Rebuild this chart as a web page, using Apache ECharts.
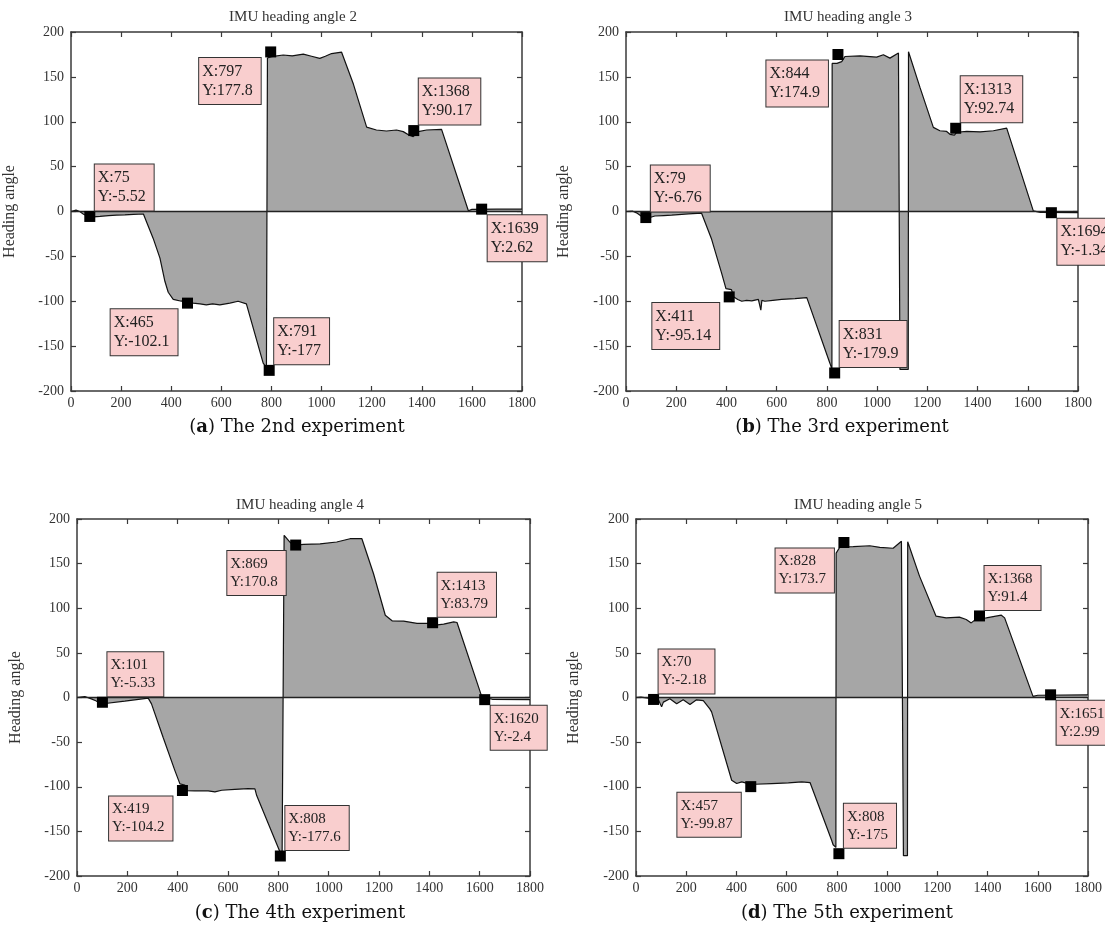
<!DOCTYPE html>
<html>
<head>
<meta charset="utf-8">
<script src="https://cdn.jsdelivr.net/npm/echarts@6/dist/echarts.min.js"></script>
<style>
  html, body { margin: 0; padding: 0; background: #fff; }
  #chart { width: 1105px; height: 943px; }
</style>
</head>
<body>
<div id="chart"></div>
<script>
// ---------- data ----------
const xTicksMin = 0, xTicksMax = 1800, xTickStep = 200;
const yTicksMin = -200, yTicksMax = 200, yTickStep = 50;

const panelTitles = ['IMU heading angle 2', 'IMU heading angle 3', 'IMU heading angle 4', 'IMU heading angle 5'];
const captionLetters = ['a', 'b', 'c', 'd'];
const captionTexts = [' The 2nd experiment', ' The 3rd experiment', ' The 4th experiment', ' The 5th experiment'];

// Experiment 2
const exp2X = [0,20,35,50,70,90,116,150,182,215,249,289,302,328,355,375,388,408,441,455,470,487,515,540,565,594,634,667,700,767,780,783,784,800,847,883,927,960,993,1015,1040,1080,1127,1180,1219,1259,1299,1326,1350,1366,1386,1419,1479,1586,1600,1700,1800];
const exp2Y = [0,1.5,0,-3,-5.5,-6,-5.5,-4.5,-4,-3.8,-3.3,-2.8,-12,-30,-52,-78,-90,-98,-100,-97,-98,-102,-103,-104,-103,-104,-102,-100,-103,-169,-174,-176,171,172.5,174.4,173.5,175.4,173,170.6,173,176,177.5,142,94,90.8,89.7,90.8,89,85,83.5,89,90.8,91.5,0.9,2.4,2.6,2.6];

// Experiment 3
const exp3X = [0,25,42,60,69,85,115,150,182,249,301,341,381,398,405,420,428,445,461,480,501,527,533,537,541,553,585,620,673,720,812,818,820,821,840,859,872,932,998,1025,1051,1085,1090,1091,1124,1125,1171,1224,1250,1277,1290,1297,1308,1317,1357,1410,1463,1516,1622,1650,1800];
const exp3Y = [0,0.5,-1.5,-5,-7,-7.5,-5,-4.5,-4,-2.6,-1.9,-31,-69,-86,-86.5,-87,-95,-98,-100,-99,-99.5,-98,-99,-110,-99,-100,-99,-98,-97,-96,-169,-174,-178,165,165,167,172.7,173.3,172,174.6,170.9,176.7,178,-176,-176,178,138,93.7,90,89.2,86,84.4,85,88.3,89.2,88.8,90,92.9,0.7,-1,-1.3];

// Experiment 4
const exp4X = [0,31,57,77,104,190,283,296,342,389,409,415,428,435,468,521,548,575,627,680,707,714,807,815,822,823,846,860,900,966,1032,1085,1132,1178,1225,1252,1298,1351,1404,1424,1457,1497,1510,1609,1650,1800];
const exp4Y = [0,1.1,-1.5,-4,-7,-4,-0.7,-7.1,-44.5,-81.9,-96.8,-98,-98,-104.3,-104.6,-104.6,-105.8,-103.9,-103,-102.1,-102.4,-109.9,-173.4,-177.2,-178,181.7,174.2,170.4,171.5,172.2,174.2,177.9,177.9,138.9,92.2,85.9,85.5,83,83,81,82.2,84.7,84,0.4,-2,-2.4];

// Experiment 5
const exp5X = [0,20,69,90,102,109,135,162,188,215,241,268,294,301,381,401,421,440,474,540,607,660,693,779,785,796,797,812,865,931,971,1024,1057,1064,1065,1081,1082,1129,1195,1235,1288,1315,1335,1355,1395,1455,1468,1581,1600,1800];
const exp5Y = [0,0.5,-1.5,-3,-10.5,-5.2,-1.5,-7.1,-2.6,-7.9,-2.6,-3.4,-12.7,-16.1,-92.7,-96.4,-94.5,-96,-97.2,-96.4,-95.7,-94.5,-95.3,-160,-165,-168,161.8,168.6,169,170,168.3,167.2,175,175.6,-177.2,-177.2,174.5,136,91.1,89.2,90,87.4,83.6,88.1,89.2,92.2,89.2,1.3,2.5,3];

// Data tips (X, Y) shown on each plot
const tip2X = [75, 797, 465, 791, 1368, 1639];
const tip2Y = [-5.52, 177.8, -102.1, -177, 90.17, 2.62];
const tip3X = [79, 844, 411, 831, 1313, 1694];
const tip3Y = [-6.76, 174.9, -95.14, -179.9, 92.74, -1.34];
const tip4X = [101, 869, 419, 808, 1413, 1620];
const tip4Y = [-5.33, 170.8, -104.2, -177.6, 83.79, -2.4];
const tip5X = [70, 828, 457, 808, 1368, 1651];
const tip5Y = [-2.18, 173.7, -99.87, -175, 91.4, 2.99];

// ---------- layout / style (not data) ----------
const grids = [
  { left: 71,  top: 32,  width: 451, height: 359 },
  { left: 626, top: 32,  width: 452, height: 359 },
  { left: 77,  top: 519, width: 453, height: 357 },
  { left: 636, top: 519, width: 452, height: 357 }
];
const titlePos = [[293, 10], [848, 10], [300, 498], [858, 498]];
const captionPos = [[297, 418], [842, 418], [300, 904], [847, 904]];
const tipPlacement = [
  ['tr','bl','bl','tr','tr','br'],
  ['tr','bl','bl','tr','tr','br'],
  ['tr','bl','bl','tr','tr','br'],
  ['tr','bl','bl','tr','tr','br']
];
const tipFont = [[16, 19], [16, 19], [15, 18], [15, 18]];
const serif = 'Liberation Serif';
const capFont = 'DejaVu Serif';
const axisColor = '#3a3a3a';
const txtColor = '#333';
const fillGray = '#a6a6a6';
const markSize = 11;
const tipPad = [4, 8, 4, 3];

const curves = [[exp2X, exp2Y], [exp3X, exp3Y], [exp4X, exp4Y], [exp5X, exp5Y]];
const tips = [[tip2X, tip2Y], [tip3X, tip3Y], [tip4X, tip4Y], [tip5X, tip5Y]];

const measureCtx = document.createElement('canvas').getContext('2d');
function tipText(x, y) { return ['X:' + x, 'Y:' + y]; }
function boxWidth(x, y, fs) {
  measureCtx.font = fs + 'px "' + serif + '"';
  const lines = tipText(x, y);
  return Math.max(...lines.map(s => measureCtx.measureText(s).width)) + tipPad[1] + tipPad[3] + 2;
}

function placement(code, w) {
  const c = markSize / 2;
  if (code === 'tr') return { position: [c + 5, c - 6], align: 'left', verticalAlign: 'bottom' };
  if (code === 'bl') return { position: [c - 8 - w, c + 6], align: 'left', verticalAlign: 'top' };
  if (code === 'br') return { position: [c + 6, c + 6], align: 'left', verticalAlign: 'top' };
  return { position: [c - 6 - w, c - 6], align: 'left', verticalAlign: 'bottom' };
}

const option = {
  backgroundColor: '#fff',
  animation: false,
  grid: grids.map(g => Object.assign({ containLabel: false }, g)),
  xAxis: [],
  yAxis: [],
  series: [],
  title: []
};

grids.forEach((g, i) => {
  const lineStyle = { color: axisColor, width: 1.5 };
  const tick = { show: true, inside: true, length: 5, lineStyle: { color: axisColor, width: 1.2 } };
  option.xAxis.push({
    gridIndex: i, type: 'value', position: 'bottom',
    min: xTicksMin, max: xTicksMax, interval: xTickStep,
    axisLine: { show: true, onZero: false, lineStyle },
    axisTick: tick,
    axisLabel: { margin: 5, fontFamily: serif, fontSize: 14, color: txtColor, formatter: v => String(v) },
    splitLine: { show: false }
  });
  option.xAxis.push({
    gridIndex: i, type: 'value', position: 'top',
    min: xTicksMin, max: xTicksMax, interval: xTickStep,
    axisLine: { show: true, onZero: false, lineStyle },
    axisTick: tick, axisLabel: { show: false }, splitLine: { show: false }
  });
  option.yAxis.push({
    gridIndex: i, type: 'value', position: 'left',
    min: yTicksMin, max: yTicksMax, interval: yTickStep,
    axisLine: { show: true, onZero: false, lineStyle },
    axisTick: tick,
    axisLabel: { margin: 7, fontFamily: serif, fontSize: 14, color: txtColor, formatter: v => String(v) },
    splitLine: { show: false },
    name: 'Heading angle', nameLocation: 'middle', nameGap: (i % 2 === 0 ? 53 : 54),
    nameTextStyle: { fontFamily: serif, fontSize: 16, color: txtColor }
  });
  option.yAxis.push({
    gridIndex: i, type: 'value', position: 'right',
    min: yTicksMin, max: yTicksMax, interval: yTickStep,
    axisLine: { show: true, onZero: false, lineStyle },
    axisTick: tick, axisLabel: { show: false }, splitLine: { show: false }
  });

  const [cx, cy] = curves[i];
  option.series.push({
    type: 'line', xAxisIndex: 2 * i, yAxisIndex: 2 * i,
    data: cx.map((x, k) => [x, cy[k]]),
    symbol: 'none', showSymbol: false, smooth: false,
    lineStyle: { color: '#111', width: 1.2 },
    areaStyle: { color: fillGray, opacity: 1, origin: 0 },
    z: 2,
    markLine: {
      silent: true, symbol: 'none', label: { show: false },
      lineStyle: { color: '#222', width: 1.3, type: 'solid' },
      data: [{ yAxis: 0 }]
    }
  });

  const [tx, ty] = tips[i];
  const [fs, lh] = tipFont[i];
  option.series.push({
    type: 'scatter', xAxisIndex: 2 * i, yAxisIndex: 2 * i,
    symbol: 'rect', symbolSize: markSize, clip: false,
    itemStyle: { color: '#000', opacity: 1 },
    z: 5,
    data: tx.map((x, k) => ({
      value: [x, ty[k]],
      label: placement(tipPlacement[i][k], boxWidth(x, ty[k], fs))
    })),
    label: {
      show: true,
      formatter: p => tipText(p.value[0], p.value[1]).join('\n'),
      fontFamily: serif, fontSize: fs, lineHeight: lh, color: '#222',
      backgroundColor: '#f9cece', borderColor: '#333', borderWidth: 1,
      padding: tipPad
    },
    emphasis: { disabled: true }
  });

  option.title.push({
    text: panelTitles[i], left: titlePos[i][0], top: titlePos[i][1], textAlign: 'center',
    padding: 0,
    textStyle: { fontFamily: serif, fontSize: 15, fontWeight: 'normal', color: txtColor }
  });
  option.title.push({
    text: '{p|(}{b|' + captionLetters[i] + '}{p|)' + captionTexts[i] + '}',
    left: captionPos[i][0], top: captionPos[i][1], textAlign: 'center', padding: 0,
    textStyle: {
      fontWeight: 'normal',
      rich: {
        p: { fontFamily: capFont, fontSize: 18, color: '#111', fontWeight: 'normal' },
        b: { fontFamily: capFont, fontSize: 18, color: '#111', fontWeight: 'bold' }
      }
    }
  });
});

const chart = echarts.init(document.getElementById('chart'), null, { renderer: 'canvas' });
chart.setOption(option);
</script>
</body>
</html>
